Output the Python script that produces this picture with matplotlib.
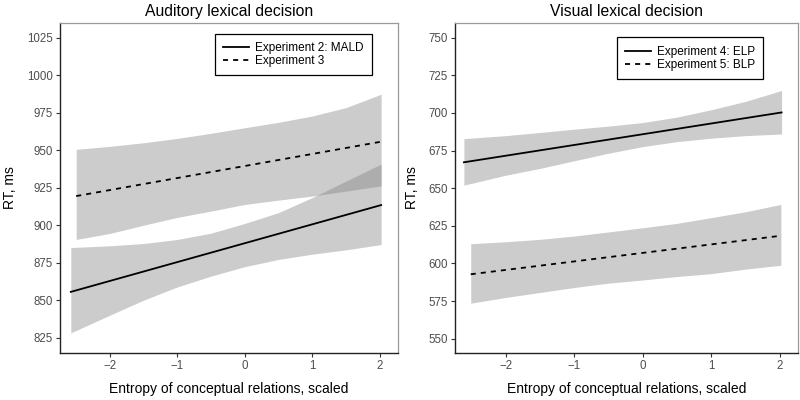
import matplotlib
matplotlib.use("Agg")
import matplotlib.pyplot as plt
from matplotlib.lines import Line2D

plt.rcParams['font.family'] = ['Liberation Sans', 'DejaVu Sans']

# ---------------- data: auditory lexical decision ----------------
aud_title = "Auditory lexical decision"
aud_labels = ["Experiment 2: MALD", "Experiment 3"]

mald_x = [-2.58, -2.0, -1.5, -1.0, -0.5, 0.0, 0.5, 1.0, 1.5, 2.02]
mald_upper = [885.2, 886.4, 887.9, 890.6, 894.8, 901.3, 908.5, 918.5, 929.5, 940.8]
mald_lower = [828.4, 840.2, 850.2, 859.0, 866.2, 872.5, 877.3, 880.8, 883.7, 887.2]
mald_line_x = [-2.58, 2.02]
mald_line_y = [855.7, 913.5]

exp3_x = [-2.5, -2.0, -1.5, -1.0, -0.5, 0.0, 0.5, 1.0, 1.5, 2.02]
exp3_upper = [950.6, 952.6, 955.0, 957.9, 961.3, 965.0, 968.6, 972.8, 978.4, 987.3]
exp3_lower = [890.6, 894.6, 900.1, 905.3, 909.5, 913.9, 916.8, 919.5, 922.8, 926.3]
exp3_line_x = [-2.5, 2.02]
exp3_line_y = [919.5, 955.7]

aud_yticks = [825, 850, 875, 900, 925, 950, 975, 1000, 1025]

# ---------------- data: visual lexical decision ----------------
vis_title = "Visual lexical decision"
vis_labels = ["Experiment 4: ELP", "Experiment 5: BLP"]

elp_x = [-2.61, -2.0, -1.5, -1.0, -0.5, 0.0, 0.5, 1.0, 1.5, 2.03]
elp_upper = [682.9, 684.9, 687.0, 689.2, 691.2, 693.6, 697.2, 702.1, 707.6, 714.9]
elp_lower = [652.0, 658.6, 663.1, 668.2, 673.2, 677.6, 680.9, 683.2, 684.9, 686.0]
elp_line_x = [-2.61, 2.03]
elp_line_y = [667.2, 700.3]

blp_x = [-2.51, -2.0, -1.5, -1.0, -0.5, 0.0, 0.5, 1.0, 1.5, 2.02]
blp_upper = [613.1, 614.4, 616.0, 618.2, 620.9, 623.7, 626.6, 630.4, 634.3, 639.2]
blp_lower = [573.6, 577.4, 580.7, 584.0, 586.9, 589.0, 591.3, 593.2, 596.2, 598.8]
blp_line_x = [-2.51, 2.02]
blp_line_y = [592.8, 618.4]

vis_yticks = [550, 575, 600, 625, 650, 675, 700, 725, 750]

xticks = [-2, -1, 0, 1, 2]
xticklabels = ["\u22122", "\u22121", "0", "1", "2"]
xlabel = "Entropy of conceptual relations, scaled"
ylabel = "RT, ms"

# ---------------- drawing ----------------
fig = plt.figure(figsize=(8, 4), dpi=100)
ax1 = fig.add_axes([0.075, 0.1175, 0.4225, 0.826])
ax2 = fig.add_axes([0.56875, 0.1175, 0.42875, 0.826])

band_kw = dict(color='#808080', alpha=0.4, linewidth=0)
dash = (0, (2.8, 2.8))
LW = 1.3


def style(ax, title, yticks, ylim, leg_anchor, labels, ylab_x):
    ax.set_xlim(-2.74, 2.27)
    ax.set_ylim(*ylim)
    ax.set_xticks(xticks)
    ax.set_xticklabels(xticklabels)
    ax.set_yticks(yticks)
    ax.tick_params(axis='both', direction='out', length=3, width=0.8,
                   color='#333333', labelcolor='#4D4D4D', labelsize=8.3, pad=2)
    for s in ['left', 'bottom']:
        ax.spines[s].set_color('#222222')
        ax.spines[s].set_linewidth(1.0)
    for s in ['top', 'right']:
        ax.spines[s].set_color('#999999')
        ax.spines[s].set_linewidth(0.9)
    ax.set_title(title, fontsize=11.3, pad=5)
    ax.set_xlabel(xlabel, fontsize=10)
    ax.set_ylabel(ylabel, fontsize=10)
    ax.xaxis.set_label_coords(0.5, -0.087)
    ax.yaxis.set_label_coords(ylab_x, 0.5)
    handles = [Line2D([], [], color='black', lw=LW, ls='-'),
               Line2D([], [], color='black', lw=LW, ls=dash)]
    leg = ax.legend(handles, labels, loc='upper right', bbox_to_anchor=leg_anchor,
                    fontsize=8.5, frameon=True, fancybox=False, framealpha=1,
                    handlelength=2.2, handletextpad=0.5, borderpad=0.7,
                    labelspacing=0.1, borderaxespad=0)
    leg.get_frame().set_edgecolor('black')
    leg.get_frame().set_linewidth(0.9)


ax1.fill_between(mald_x, mald_lower, mald_upper, **band_kw)
ax1.fill_between(exp3_x, exp3_lower, exp3_upper, **band_kw)
ax1.plot(mald_line_x, mald_line_y, color='black', lw=LW, ls='-')
ax1.plot(exp3_line_x, exp3_line_y, color='black', lw=LW, ls=dash)
style(ax1, aud_title, aud_yticks, (815, 1035), (0.922, 0.967), aud_labels, -0.126)

ax2.fill_between(elp_x, elp_lower, elp_upper, **band_kw)
ax2.fill_between(blp_x, blp_lower, blp_upper, **band_kw)
ax2.plot(elp_line_x, elp_line_y, color='black', lw=LW, ls='-')
ax2.plot(blp_line_x, blp_line_y, color='black', lw=LW, ls=dash)
style(ax2, vis_title, vis_yticks, (540.5, 760), (0.899, 0.955), vis_labels, -0.105)

fig.savefig("out.png", dpi=100)
